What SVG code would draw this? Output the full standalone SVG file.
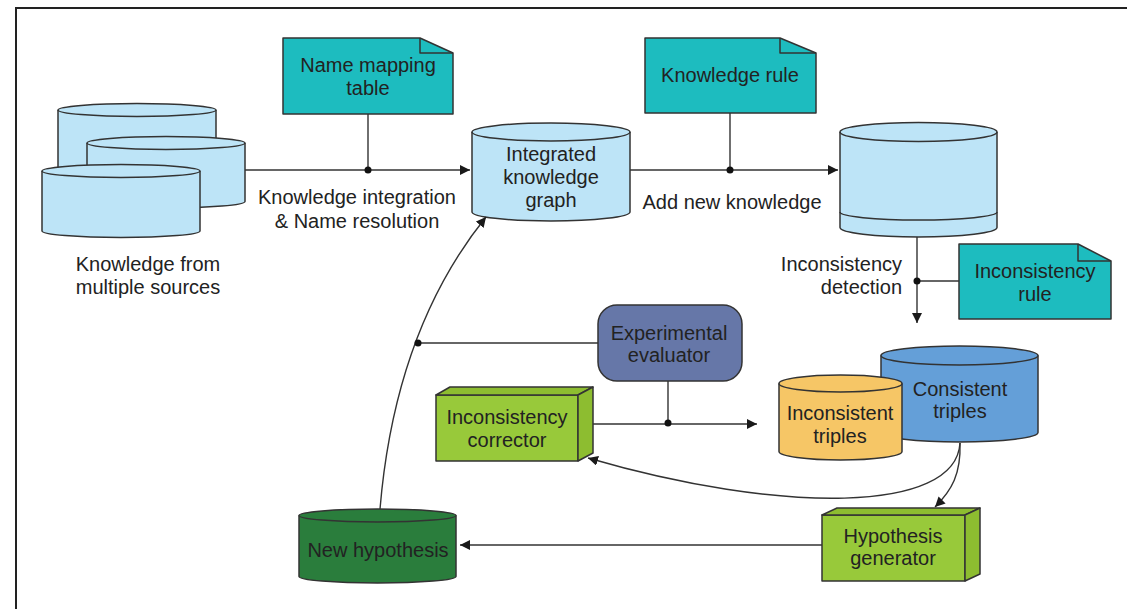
<svg xmlns="http://www.w3.org/2000/svg" width="1127" height="609" viewBox="0 0 1127 609">
<defs>
<marker id="arr" viewBox="0 0 10 10" refX="10" refY="5" markerWidth="10" markerHeight="10" markerUnits="userSpaceOnUse" orient="auto">
<path d="M0,0 L10,5 L0,10 Z" fill="#1a1a1a"/>
</marker>
<style>
.t{font-family:"Liberation Sans",Arial,sans-serif;font-size:20px;fill:#222;text-anchor:middle}
.r{text-anchor:end}
.s{stroke:#333;stroke-width:1.5;stroke-linejoin:round}
.cyl{fill:#bde4f7}
.note{fill:#1dbcbf}
.box{fill:#98c93a}
.side{fill:#8dbd30}
.ln{fill:none;stroke:#333;stroke-width:1.4}
.dot{fill:#111}
</style>
</defs>
<rect width="1127" height="609" fill="#fff"/>
<path d="M16,609 V8 H1127" fill="none" stroke="#222" stroke-width="2"/>

<g id="sources">
<path class="s cyl" d="M58,110 V195 A79,6.5 0 0 0 216,195 V110 A79,6.5 0 0 0 58,110 Z"/>
<path class="s" fill="none" d="M58,110 A79,6.5 0 0 0 216,110"/>
<path class="s cyl" d="M87,143 V201.5 A79,6.5 0 0 0 245,201.5 V143 A79,6.5 0 0 0 87,143 Z"/>
<path class="s" fill="none" d="M87,143 A79,6.5 0 0 0 245,143"/>
<path class="s cyl" d="M42,171 V231 A79,6.5 0 0 0 200,231 V171 A79,6.5 0 0 0 42,171 Z"/>
<path class="s" fill="none" d="M42,171 A79,6.5 0 0 0 200,171"/>
<text class="t" x="148" y="271">Knowledge from</text>
<text class="t" x="148" y="294">multiple sources</text>
</g>

<g id="name-mapping">
<path class="s note" d="M283,38 H420 L453,53 V114 H283 Z"/>
<path class="s" fill="none" d="M420,38 V53 H453"/>
<text class="t" x="368" y="72">Name mapping</text>
<text class="t" x="368" y="95">table</text>
</g>

<g id="integrated-kg">
<path class="s cyl" d="M472,132 V212 A79,9 0 0 0 630,212 V132 A79,9 0 0 0 472,132 Z"/>
<path class="s" fill="none" d="M472,132 A79,9 0 0 0 630,132"/>
<text class="t" x="551" y="161">Integrated</text>
<text class="t" x="551" y="184">knowledge</text>
<text class="t" x="551" y="207">graph</text>
</g>

<g id="knowledge-rule">
<path class="s note" d="M645,38 H780 L816,53 V113 H645 Z"/>
<path class="s" fill="none" d="M780,38 V53 H816"/>
<text class="t" x="730" y="82">Knowledge rule</text>
</g>

<g id="extended-kg">
<path class="s cyl" d="M840,132 V227.5 A78.5,9.5 0 0 0 997,227.5 V132 A78.5,9.5 0 0 0 840,132 Z"/>
<path class="s" fill="none" d="M840,132 A78.5,9.5 0 0 0 997,132"/>
<path class="s" fill="none" d="M840,212 A78.5,8 0 0 0 997,212"/>
</g>

<g id="inconsistency-rule">
<path class="s note" d="M959,244 H1078 L1111,261 V319 H959 Z"/>
<path class="s" fill="none" d="M1078,244 V261 H1111"/>
<text class="t" x="1035" y="278">Inconsistency</text>
<text class="t" x="1035" y="301">rule</text>
</g>

<g id="labels">
<text class="t" x="357" y="204">Knowledge integration</text>
<text class="t" x="357" y="228">&amp; Name resolution</text>
<text class="t" x="732" y="209">Add new knowledge</text>
<text class="t r" x="902" y="271">Inconsistency</text>
<text class="t r" x="902" y="294">detection</text>
</g>

<g id="consistent-triples">
<path class="s" fill="#649fd8" d="M881,355.5 V432.5 A78.5,9.5 0 0 0 1038,432.5 V355.5 A78.5,9.5 0 0 0 881,355.5 Z"/>
<path class="s" fill="none" d="M881,355.5 A78.5,9.5 0 0 0 1038,355.5"/>
<text class="t" x="960" y="396">Consistent</text>
<text class="t" x="960" y="418">triples</text>
</g>

<g id="inconsistent-triples">
<path class="s" fill="#f6c666" d="M779,383.5 V451.5 A61.5,8.5 0 0 0 902,451.5 V383.5 A61.5,8.5 0 0 0 779,383.5 Z"/>
<path class="s" fill="none" d="M779,383.5 A61.5,8.5 0 0 0 902,383.5"/>
<text class="t" x="840" y="420">Inconsistent</text>
<text class="t" x="840" y="443">triples</text>
</g>

<g id="experimental-evaluator">
<rect class="s" fill="#6677a8" x="598" y="305" width="144" height="76" rx="19"/>
<text class="t" x="669" y="340">Experimental</text>
<text class="t" x="669" y="362">evaluator</text>
</g>

<g id="inconsistency-corrector">
<path class="s box" d="M436,395 H578 V461 H436 Z"/>
<path class="s side" d="M436,395 L450,387 H593 L578,395 Z"/>
<path class="s side" d="M578,395 L593,387 V453 L578,461 Z"/>
<text class="t" x="507" y="424">Inconsistency</text>
<text class="t" x="507" y="447">corrector</text>
</g>

<g id="hypothesis-generator">
<path class="s box" d="M822,515 H965 V581 H822 Z"/>
<path class="s side" d="M822,515 L837,508 H980 L965,515 Z"/>
<path class="s side" d="M965,515 L980,508 V574 L965,581 Z"/>
<text class="t" x="893" y="543">Hypothesis</text>
<text class="t" x="893" y="565">generator</text>
</g>

<g id="new-hypothesis">
<path class="s" fill="#2a7d3c" d="M299,515.5 V576.5 A78.5,6.5 0 0 0 456,576.5 V515.5 A78.5,6.5 0 0 0 299,515.5 Z"/>
<path class="s" fill="none" d="M299,515.5 A78.5,6.5 0 0 0 456,515.5"/>
<text class="t" x="378" y="557">New hypothesis</text>
</g>

<g id="connectors">
<path class="ln" d="M245,170 H470" marker-end="url(#arr)"/>
<path class="ln" d="M368,114 V170"/>
<circle class="dot" cx="368" cy="170" r="3.5"/>
<path class="ln" d="M630,170 H838" marker-end="url(#arr)"/>
<path class="ln" d="M730,113 V170"/>
<circle class="dot" cx="730" cy="170" r="3.5"/>
<path class="ln" d="M917,237 V323" marker-end="url(#arr)"/>
<path class="ln" d="M917,281 H959"/>
<circle class="dot" cx="917" cy="281" r="3.5"/>
<path class="ln" d="M380,509 Q395,330 486,217" marker-end="url(#arr)"/>
<path class="ln" d="M598,343 H418"/>
<circle class="dot" cx="418" cy="343" r="3.5"/>
<path class="ln" d="M593,424 H757" marker-end="url(#arr)"/>
<path class="ln" d="M668,381 V424"/>
<circle class="dot" cx="668" cy="423" r="3.5"/>
<path class="ln" d="M960,443 C956,514 780,514 588,458" marker-end="url(#arr)"/>
<path class="ln" d="M960,443 C961,474 952,490 935,507" marker-end="url(#arr)"/>
<path class="ln" d="M822,545 H460" marker-end="url(#arr)"/>
</g>
</svg>
